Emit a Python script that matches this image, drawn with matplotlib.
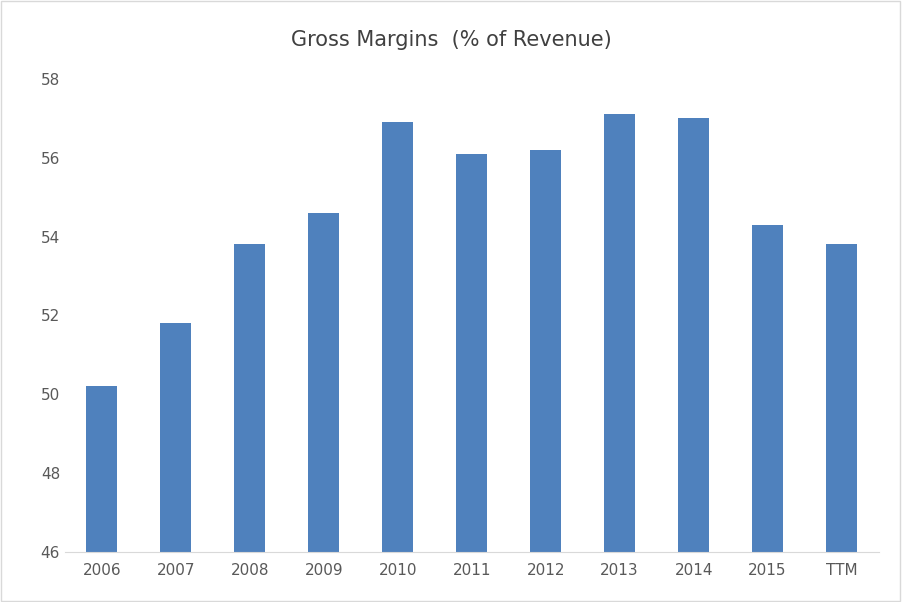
import matplotlib.pyplot as plt
import numpy as np

years = ['2006', '2007', '2008', '2009', '2010', '2011', '2012', '2013', '2014', '2015', 'TTM']
margins = [50.2, 51.8, 53.8, 54.6, 56.9, 56.1, 56.2, 57.1, 57.0, 54.3, 53.8]

fig = plt.figure(figsize=(9.02, 6.02), dpi=100)
ax = fig.add_axes([0.072, 0.083, 0.902, 0.786])
x = np.arange(len(years))
ax.bar(x, margins, width=0.42, color='#4f81bd', bottom=0)
ax.set_ylim(46, 58)
ax.set_xlim(-0.5, len(years) - 0.5)
ax.set_yticks(range(46, 59, 2))
ax.set_xticks(x)
ax.set_xticklabels(years)
ax.tick_params(length=0, labelsize=11, colors='#595959')
ax.tick_params(axis='x', pad=8)
for s in ['top', 'right', 'left']:
    ax.spines[s].set_visible(False)
ax.spines['bottom'].set_color('#d9d9d9')
fig.suptitle('Gross Margins  (% of Revenue)', y=0.95, fontsize=15, color='#404040')
fig.patches.append(plt.Rectangle((0.001, 0.001), 0.997, 0.997, transform=fig.transFigure,
                                 fill=False, edgecolor='#d9d9d9', linewidth=1))
fig.savefig('out.png')
